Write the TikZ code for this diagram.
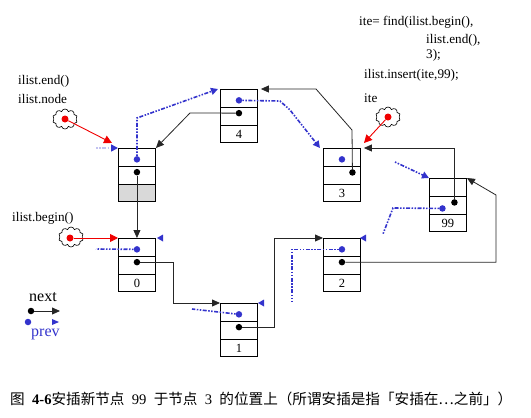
\documentclass[tikz,border=0pt]{standalone}
\usepackage{fontspec}
\setmainfont{Liberation Serif}
\newfontfamily\cjk{Noto Sans CJK SC}
\usetikzlibrary{shapes.symbols,arrows.meta,calc}
\definecolor{pblue}{RGB}{51,51,204}
\definecolor{lred}{RGB}{240,0,0}
\tikzset{
 cell/.style={draw, line width=0.9pt, minimum width=37pt, minimum height=17.8pt, inner sep=0, anchor=north west, font=\fontsize{12.5}{13}\selectfont},
 bdot/.style={circle, fill=pblue, inner sep=0, minimum size=6.5pt},
 kdot/.style={circle, fill=black, inner sep=0, minimum size=6.5pt},
 rdot/.style={circle, fill=lred, inner sep=0, minimum size=7pt},
 nextl/.style={draw=black!85, line width=0.8pt, -{Triangle[length=8pt,width=7pt]}},
 prevl/.style={draw=pblue, line width=1.6pt, dash pattern=on 1.5pt off 1.5pt on 1.5pt off 1.5pt on 4pt off 1.5pt},
 ptip/.style={-{Triangle[length=7pt,width=7pt,color=pblue]}},
 redl/.style={draw=lred, line width=0.9pt, -{Triangle[length=8pt,width=8pt]}},
 cloudn/.style={cloud, draw, cloud puffs=10, aspect=1.2, minimum width=25pt, minimum height=20pt, inner sep=0, line width=0.6pt},
 lbl/.style={font=\fontsize{13.2}{15}\selectfont, inner sep=0, anchor=base west},
}
\newcommand\lbox[5]{% name, x, y, label, third-cell fill
 \node[cell] (#1-p) at (#2,#3) {};
 \node[cell] (#1-n) at (#2,#3+17.8) {};
 \node[cell, fill=#5] (#1-v) at (#2,#3+35.6) {#4};
}
\begin{document}
\begin{tikzpicture}[x=1pt,y=-1pt]
\useasboundingbox (0,0) rectangle (531,418);
% boxes
\lbox{end}{118}{148}{}{black!15}
\lbox{n4}{220}{89}{4}{white}
\lbox{n3}{323}{148}{3}{white}
\lbox{n99}{429}{178}{99}{white}
\lbox{n0}{118}{238}{0}{white}
\lbox{n1}{220}{303}{1}{white}
\lbox{n2}{323}{238}{2}{white}
% dots
\foreach \b in {end,n4,n3,n0,n1,n2}{
 \node[bdot] (\b-pd) at ([yshift=-2pt]\b-p.center) {};
}
\foreach \b in {end,n4,n0,n1,n2}{
 \node[kdot] (\b-nd) at ([yshift=3pt]\b-n.center) {};
}
\node[kdot] (n3-nd) at ([xshift=10.5pt,yshift=2.7pt]n3-n.center) {};
\node[kdot] (n99-nd) at ([xshift=6.5pt,yshift=2.7pt]n99-n.center) {};
\node[bdot] (n99-pd) at ([xshift=-5.5pt,yshift=-3.3pt]n99-n.center) {};
% next pointers
\draw[nextl] (end-nd) -- (n0-p.north);
\draw[nextl] (n0-nd) -| (173,303) -- (n1-p.north west);
\draw[nextl] (n1-nd) -| (274,238) -- (n2-p.north west);
\draw[nextl] (n2-nd) -| (496,195) -- (n99-p.north east);
\draw[nextl] (n99-nd) |- ([xshift=3pt]n3-p.north east);
\draw[nextl] (n3-nd) -- (352,130) -- (316,89) -- ([xshift=3pt]n4-p.north east);
\draw[nextl] (n4-nd) -- (190,113) -- (end-p.north east);
% prev pointers
\coordinate (a0) at (96,249);
\draw[prevl] (n0-pd) -- (a0);
\draw[prevl,ptip] (end-pd) -- (137,118) -- ([xshift=-2pt]n4-p.north west);
\coordinate (fa) at (96,148);
\draw[prevl,draw=pblue!30,ptip] (fa) -- (end-p.north west);
\draw[prevl,ptip] (n4-pd) -- (280,101) -- (290,110) -- ([xshift=-3pt]n3-p.north west);
\coordinate (e99) at (383,234);
\draw[prevl] (n99-pd) -- (393,208) -- (e99);
\coordinate (f99) at (395,162);
\draw[prevl,ptip] (f99) -- (n99-p.north west);
\draw[prevl] (n2-pd) -| (292,302);
\coordinate (h1) at (192,309);
\draw[prevl] (n1-pd) -- (h1);
% isolated blue tips
\fill[pblue] (163,234.5) -- (157,238) -- (163,241.5) -- cycle;
\fill[pblue] (264,299.5) -- (258,303) -- (264,306.5) -- cycle;
\fill[pblue] (366,234.5) -- (360,238) -- (366,241.5) -- cycle;
% red pointers
\node[cloudn] (c1) at (65,119) {};
\node[rdot] (r1) at (c1.center) {};
\coordinate (t1) at (112,143);
\draw[redl] (r1) -- (t1);
\node[cloudn] (c2) at (71,237) {};
\node[rdot] (r2) at (70,238) {};
\draw[redl] (r2) -- (n0-p.north west);
\node[cloudn] (c3) at (388,117) {};
\node[rdot] (r3) at (c3.center) {};
\coordinate (t3) at (364,143);
\draw[redl] (r3) -- (t3);
% texts
\node[lbl] (tend) at (18,84) {ilist.end()};
\node[lbl] (tnode) at (18,103) {ilist.node};
\node[lbl] (tbeg) at (12,221) {ilist.begin()};
\node[lbl] (tf1) at (359,25) {ite= find(ilist.begin(),};
\node[lbl] (tf2) at (426,43) {ilist.end(),};
\node[lbl] (tf3) at (426,58) {3);};
\node[lbl] (tins) at (364,78) {ilist.insert(ite,99);};
\node[lbl] (tite) at (364,102) {ite};
% legend
\node[lbl, font=\fontsize{16}{18}\selectfont] (lnext) at (29,301) {next};
\node[kdot] (lk) at (31,311) {};
\coordinate (lke) at (60,311);
\draw[nextl] (lk) -- (lke);
\node[bdot] (lb) at (28,322) {};
\fill[pblue] (52,319) -- (59,322) -- (52,325) -- cycle;
\node[lbl, font=\fontsize{16}{18}\selectfont, text=pblue] (lprev) at (31,336) {prev};
% caption
\node[lbl, font=\fontsize{14.6}{17}\selectfont] (cap) at (10,404) {{\cjk 图}\ \ \textbf{4-6}{\cjk 安插新节点}\ \ 99\ \ {\cjk 于节点}\ \ 3\ \ {\cjk 的位置上（所谓安插是指「安插在⋯之前」）}};
\end{tikzpicture}
\end{document}
